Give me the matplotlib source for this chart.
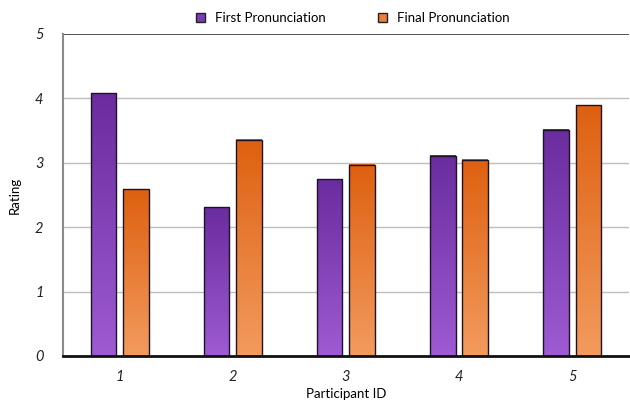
import numpy as np
import matplotlib
matplotlib.use("Agg")
import matplotlib.pyplot as plt
import matplotlib.patches as mpatches
from matplotlib.colors import LinearSegmentedColormap

plt.rcParams['font.family'] = ['Lato', 'DejaVu Sans']

participants = ['1', '2', '3', '4', '5']
first_ratings = [4.08, 2.31, 2.74, 3.11, 3.51]
final_ratings = [2.59, 3.36, 2.97, 3.05, 3.89]
series_names = ['First Pronunciation', 'Final Pronunciation']
y_ticks = [0, 1, 2, 3, 4, 5]

purple_top, purple_bottom = '#6a2c9e', '#9e5bd3'
orange_top, orange_bottom = '#de6010', '#f29b5e'

bar_w = 0.226
offset = 0.143

fig = plt.figure(figsize=(6.3, 4.04), dpi=100)
ax = fig.add_axes([0.1, 0.119, 0.898, 0.797])

grad = np.linspace(0, 1, 256).reshape(-1, 1)


def gradient_bar(x, h, top, bottom):
    # bottom color at y=0, top color at bar top
    cmap = LinearSegmentedColormap.from_list('g', [bottom, top])
    ax.imshow(grad, cmap=cmap, extent=[x - bar_w / 2, x + bar_w / 2, 0, h],
              origin='lower', aspect='auto', zorder=2)
    ax.add_patch(mpatches.Rectangle((x - bar_w / 2, 0), bar_w, h, fill=False,
                                    edgecolor='#1c1424', linewidth=1.0, zorder=3))


x = np.arange(len(participants))
for i in range(len(participants)):
    gradient_bar(x[i] - offset, first_ratings[i], purple_top, purple_bottom)
    gradient_bar(x[i] + offset, final_ratings[i], orange_top, orange_bottom)

ax.set_xlim(-0.5, len(participants) - 0.5)
ax.set_ylim(0, 5)
ax.set_yticks(y_ticks)
ax.set_yticklabels([str(t) for t in y_ticks], fontstyle='italic', fontsize=10.5, color='#222222')
ax.set_xticks(x)
ax.set_xticklabels(participants, fontstyle='italic', fontsize=10.5, color='#222222')
ax.tick_params(axis='y', length=0, pad=14)
ax.tick_params(axis='x', length=0, pad=10)

for t in y_ticks[1:-1]:
    ax.axhline(t, color='#bdbdbd', linewidth=1.0, zorder=1)
ax.axhline(5, color='#333333', linewidth=1.2, zorder=1)

for s in ['top', 'right']:
    ax.spines[s].set_visible(False)
ax.spines['left'].set_color('#8a8a8a')
ax.spines['left'].set_linewidth(1.5)
ax.spines['bottom'].set_color('#111111')
ax.spines['bottom'].set_linewidth(2)
ax.spines['bottom'].set_zorder(4)

ax.set_ylabel('Rating', fontsize=9.5, labelpad=10)
ax.set_xlabel('Participant ID', fontsize=9.5, labelpad=3)

handles = [mpatches.Patch(facecolor='#7b3db6', edgecolor='#222222', linewidth=1, label=series_names[0]),
           mpatches.Patch(facecolor='#ea7f3a', edgecolor='#222222', linewidth=1, label=series_names[1])]
fig.legend(handles=handles, loc='center', bbox_to_anchor=(0.56, 0.955), ncol=2,
           frameon=False, fontsize=9.5, handlelength=0.7, handleheight=0.7,
           columnspacing=4.0, handletextpad=0.7)

fig.savefig('out.png', dpi=100)
